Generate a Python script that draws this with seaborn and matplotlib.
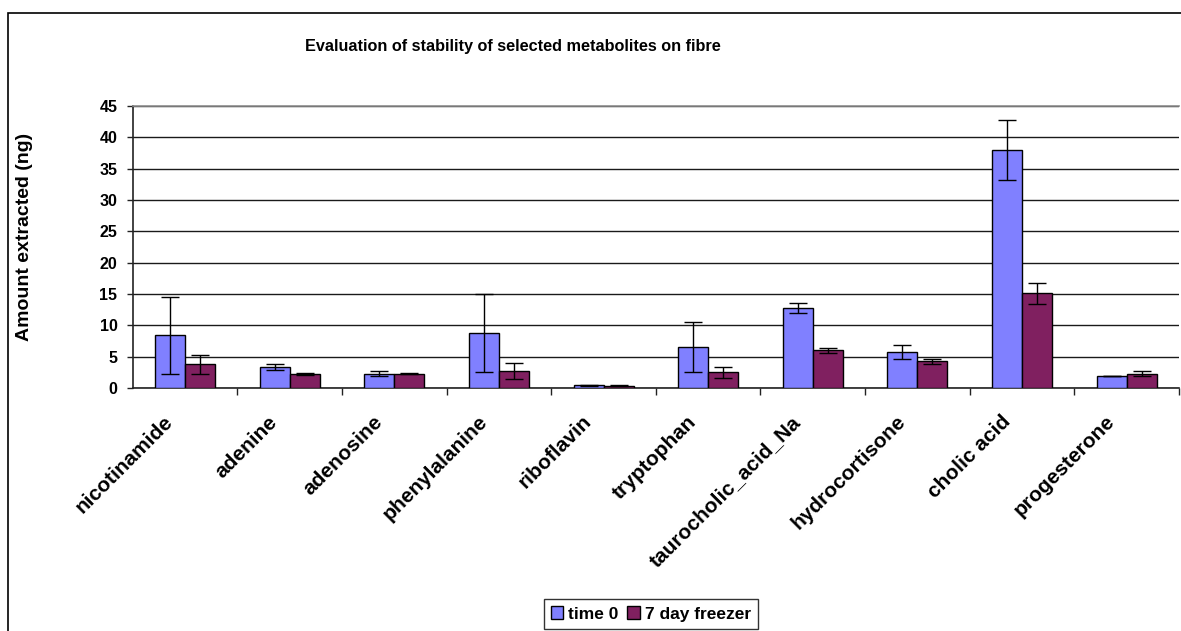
import numpy as np
import pandas as pd
import matplotlib
matplotlib.use("Agg")
import matplotlib.pyplot as plt
import matplotlib.transforms as mtransforms
from matplotlib.patches import Rectangle
import seaborn as sns

# Metabolites and measured amounts (ng)
metabolites = ["nicotinamide", "adenine", "adenosine", "phenylalanine", "riboflavin",
               "tryptophan", "taurocholic_acid_Na", "hydrocortisone", "cholic acid",
               "progesterone"]
series_names = ["time 0", "7 day freezer"]
time0 = [8.4, 3.35, 2.3, 8.8, 0.4, 6.6, 12.7, 5.8, 38.0, 1.9]
time0_err = [6.1, 0.55, 0.42, 6.2, 0.08, 4.0, 0.8, 1.1, 4.8, 0.05]
freezer = [3.8, 2.3, 2.3, 2.7, 0.35, 2.5, 6.0, 4.25, 15.1, 2.3]
freezer_err = [1.5, 0.15, 0.1, 1.3, 0.05, 0.85, 0.45, 0.45, 1.65, 0.35]
y_ticks = [0, 5, 10, 15, 20, 25, 30, 35, 40, 45]

colors = ["#8080FF", "#802060"]

df = pd.DataFrame({
    "metabolite": metabolites * 2,
    "condition": [series_names[0]] * len(metabolites) + [series_names[1]] * len(metabolites),
    "amount": time0 + freezer,
})
errors = [time0_err, freezer_err]

sns.set_style("white")
plt.rcParams["font.family"] = ["Liberation Sans", "DejaVu Sans"]
plt.rcParams["font.weight"] = "bold"
for key in ["text.color", "axes.labelcolor", "xtick.color", "ytick.color"]:
    plt.rcParams[key] = "black"

W, H = 1181, 631
fig = plt.figure(figsize=(W / 100, H / 100), dpi=100)
ax = fig.add_axes([132.7 / W, 1 - 388 / H, (1179 - 132.7) / W, 282 / H])

sns.barplot(data=df, x="metabolite", y="amount", hue="condition",
            order=metabolites, hue_order=series_names, palette=colors,
            width=0.574, errorbar=None, edgecolor="black", linewidth=1.0,
            saturation=1.0, ax=ax, zorder=3)

# error bars centred on each bar
for cont, err in zip(ax.containers, errors):
    xs = [p.get_x() + p.get_width() / 2 for p in cont.patches]
    ys = [p.get_height() for p in cont.patches]
    ax.errorbar(xs, ys, yerr=err, fmt="none", ecolor="black", elinewidth=1.0,
                capsize=6.5, capthick=1.0, zorder=4)

ax.set_ylim(0, 45)
ax.set_xlim(-0.5, len(metabolites) - 0.5)
ax.set_yticks(y_ticks)
ax.set_yticklabels([str(t) for t in y_ticks], fontsize=11.5, fontweight="bold")
ax.yaxis.grid(True, color="#1a1a1a", linewidth=1.0, zorder=0)
ax.set_axisbelow(True)

for side in ["left", "bottom"]:
    ax.spines[side].set_color("#222222")
    ax.spines[side].set_linewidth(1.2)
ax.spines["top"].set_color("#8c8c8c")
ax.spines["top"].set_linewidth(1.2)
ax.spines["right"].set_visible(False)

ax.tick_params(axis="y", which="major", direction="out", length=4, width=1,
               color="#222222", pad=7, left=True)
ax.set_xticks(np.arange(len(metabolites)))
ax.set_xticks(np.arange(len(metabolites)) + 0.5, minor=True)
ax.tick_params(axis="x", which="minor", direction="out", length=5, width=1,
               color="#222222", bottom=True)
ax.tick_params(axis="x", which="major", length=0, pad=25)
ax.set_xticklabels(metabolites, rotation=45, ha="right", va="baseline",
                   rotation_mode="anchor", fontsize=15, fontweight="bold")
shift = mtransforms.ScaledTranslation(-11 / 100, 0, fig.dpi_scale_trans)
for lab in ax.get_xticklabels():
    lab.set_transform(lab.get_transform() + shift)

ax.set_xlabel("")
ax.set_ylabel("Amount extracted (ng)", fontsize=14, fontweight="bold")
ax.yaxis.set_label_coords(-0.0953, 0.535)

# legend below the axis
handles, labels = ax.get_legend_handles_labels()
if ax.legend_ is not None:
    ax.legend_.remove()
leg = fig.legend(handles, labels, loc="center", bbox_to_anchor=(651 / W, 1 - 614 / H),
                 ncol=2, frameon=True, fancybox=False, edgecolor="black",
                 handlelength=0.7, handleheight=0.7, handletextpad=0.3,
                 columnspacing=0.5, borderpad=0.4, prop={"weight": "bold", "size": 12.5})
leg.get_frame().set_linewidth(1.0)

fig.text(513 / W, 1 - 47 / H, "Evaluation of stability of selected metabolites on fibre",
         ha="center", va="center", fontsize=11.7, fontweight="bold")

# outer chart frame
fig.patches.append(Rectangle((8 / W, -0.05), 1.0, (1 - 13 / H) + 0.05, fill=False,
                             edgecolor="black", linewidth=1.2,
                             transform=fig.transFigure, figure=fig))

fig.savefig("out.png", dpi=100)
